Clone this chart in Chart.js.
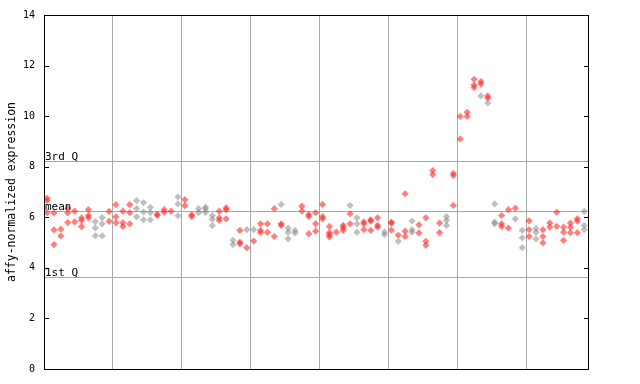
<!DOCTYPE html>
<html lang="en">

<head>
    <meta charset="UTF-8">
    <title>affy-normalized expression</title>
    <script src="https://cdn.jsdelivr.net/npm/chart.js@4.4.0/dist/chart.umd.min.js"></script>
    <style>
        html, body { margin: 0; padding: 0; background: #fff; }
        #wrap { width: 640px; height: 384px; }
    </style>
</head>

<body>
    <div id="wrap"><canvas id="myChart" width="640" height="384"></canvas></div>
</body>

<script>
    // values, one list per sample column
    const expr = [
        [6.75, 6.66, 6.18], [6.17, 5.50, 4.92], [5.53, 5.26], [6.35, 6.17, 5.79], [6.24, 5.82],
        [5.98, 5.88, 5.63], [6.30, 6.07, 5.98], [5.83, 5.58, 5.27], [5.99, 5.74, 5.27], [6.23, 5.84],
        [6.50, 6.02, 5.78], [6.24, 5.78, 5.64], [6.50, 6.18, 5.74], [6.66, 6.34, 6.02], [6.58, 6.21, 5.90],
        [6.39, 6.18, 5.90], [6.12, 6.07], [6.30, 6.20], [6.24], [6.81, 6.53, 6.06],
        [6.70, 6.46], [6.10, 6.03], [6.34, 6.19], [6.40, 6.32, 6.19], [6.07, 5.92, 5.67],
        [6.24, 5.98, 5.88], [6.37, 6.30, 5.94], [5.09, 4.92], [5.48, 5.02, 4.95], [5.51, 4.80],
        [5.51, 5.06], [5.74, 5.48, 5.39], [5.74, 5.41], [6.34, 5.24], [6.51, 5.74, 5.68],
        [5.57, 5.41, 5.15], [5.48, 5.38], [6.44, 6.24], [6.11, 6.03, 5.35], [6.18, 5.74, 5.45],
        [6.51, 6.03, 5.94], [5.64, 5.39, 5.31, 5.22], [5.41], [5.68, 5.59, 5.48], [6.47, 6.14, 5.74],
        [5.98, 5.74, 5.41], [5.82, 5.74, 5.51], [5.90, 5.85, 5.48], [5.98, 5.68, 5.61], [5.41, 5.31],
        [5.81, 5.76, 5.49], [5.29, 5.05], [6.93, 5.45, 5.24], [5.85, 5.51, 5.41], [5.70, 5.38],
        [5.98, 5.05, 4.89], [7.85, 7.69], [5.77, 5.39], [6.03, 5.88, 5.68], [7.74, 7.65, 6.47],
        [9.99, 9.10], [10.15, 9.99], [11.46, 11.23, 11.13], [11.37, 11.27, 10.80], [10.80, 10.71, 10.52],
        [6.53, 5.81, 5.74], [6.07, 5.74, 5.64], [6.30, 5.57], [6.36, 5.94], [5.48, 5.19, 4.80],
        [5.86, 5.51, 5.24], [5.55, 5.41, 5.15], [5.51, 5.24, 4.99], [5.77, 5.61], [6.20, 5.64],
        [5.61, 5.41, 5.09], [5.77, 5.61, 5.39], [5.94, 5.85, 5.39], [6.23, 5.68, 5.51]
    ];
    // r = red, g = grey, one letter per value above
    const tone = [
        'rrr', 'rrr', 'rr', 'rrr', 'rr', 'rrr', 'rrr', 'ggg', 'ggg', 'rr',
        'rrr', 'rrr', 'rrr', 'ggg', 'ggg', 'ggg', 'rr', 'rr', 'r', 'ggg',
        'rr', 'rr', 'gg', 'ggg', 'ggg', 'rrr', 'rrr', 'gg', 'rrr', 'gr',
        'gr', 'rrr', 'rr', 'rr', 'grr', 'ggg', 'gg', 'rr', 'rrr', 'rrr',
        'rrr', 'rrrr', 'r', 'rrr', 'grr', 'ggg', 'rrr', 'rrr', 'rrr', 'gg',
        'rrr', 'rg', 'rrr', 'ggg', 'rr', 'rrr', 'rr', 'rr', 'ggg', 'rrr',
        'rr', 'rr', 'rrr', 'rrg', 'rrg', 'ggg', 'rrr', 'rr', 'rg', 'ggg',
        'rrr', 'ggg', 'rrr', 'rr', 'rr', 'rrr', 'rrr', 'rrr', 'ggg'
    ];
    const quartiles = [3.63, 6.23, 8.23];
    const quartileLabels = ['1st Q', 'mean', '3rd Q'];
    const yTicks = [0, 2, 4, 6, 8, 10, 12, 14];
    const xMax = 79;

    const redPts = [];
    const greyPts = [];
    expr.forEach((vals, i) => {
        vals.forEach((v, k) => {
            const p = { x: i + 0.45, y: v };
            if (tone[i][k] === 'g') greyPts.push(p); else redPts.push(p);
        });
    });

    const mono = "'DejaVu Sans Mono', monospace";

    // frame, inner tick marks and the quartile lines
    const extras = {
        id: 'extras',
        beforeDatasetsDraw(chart) {
            const { ctx, chartArea: a, scales: { y } } = chart;
            ctx.save();
            ctx.strokeStyle = '#a8a8a8';
            ctx.lineWidth = 1;
            quartiles.forEach(q => {
                const py = Math.round(y.getPixelForValue(q)) + 0.5;
                ctx.beginPath();
                ctx.moveTo(a.left, py);
                ctx.lineTo(a.right, py);
                ctx.stroke();
            });
            ctx.restore();
        },
        afterDatasetsDraw(chart) {
            const { ctx, chartArea: a, scales: { y } } = chart;
            ctx.save();
            ctx.strokeStyle = '#000';
            ctx.lineWidth = 1;
            ctx.strokeRect(a.left + 0.5, a.top + 0.5, a.right - a.left, a.bottom - a.top);
            yTicks.forEach(t => {
                const py = Math.round(y.getPixelForValue(t)) + 0.5;
                ctx.beginPath();
                ctx.moveTo(a.left, py);
                ctx.lineTo(a.left + 5, py);
                ctx.moveTo(a.right - 4, py);
                ctx.lineTo(a.right + 1, py);
                ctx.stroke();
            });
            ctx.fillStyle = '#000';
            ctx.font = '11px ' + mono;
            ctx.textAlign = 'left';
            ctx.textBaseline = 'alphabetic';
            quartiles.forEach((q, i) => {
                const py = Math.round(y.getPixelForValue(q));
                ctx.fillText(quartileLabels[i], a.left + 1, py - 1);
            });
            ctx.restore();
        }
    };

    const ctx = document.getElementById('myChart').getContext('2d');
    const myChart = new Chart(ctx, {
        type: 'scatter',
        data: {
            datasets: [{
                data: greyPts,
                pointStyle: 'rectRot',
                pointRadius: 3.6,
                borderWidth: 0,
                backgroundColor: 'rgba(130,130,130,0.5)'
            }, {
                data: redPts,
                pointStyle: 'rectRot',
                pointRadius: 3.6,
                borderWidth: 0,
                backgroundColor: 'rgba(255,40,40,0.6)'
            }]
        },
        options: {
            responsive: false,
            animation: false,
            events: [],
            layout: { padding: { left: 0, top: 13, right: 52, bottom: 14 } },
            plugins: { legend: { display: false }, tooltip: { enabled: false } },
            scales: {
                x: {
                    type: 'linear',
                    min: 0,
                    max: xMax,
                    ticks: { display: false, stepSize: 10 },
                    grid: { color: '#a8a8a8', drawTicks: false },
                    border: { display: false },
                    afterFit(scale) { scale.height = 0; }
                },
                y: {
                    min: 0,
                    max: 14,
                    ticks: {
                        stepSize: 2,
                        color: '#000',
                        padding: 9,
                        font: { family: mono, size: 10 }
                    },
                    grid: { display: false, drawTicks: false },
                    border: { display: false },
                    title: {
                        display: true,
                        text: 'affy-normalized expression',
                        color: '#000',
                        font: { family: mono, size: 11.5 },
                        padding: { top: 5, bottom: 0 }
                    },
                    afterFit(scale) { scale.width = 44; }
                }
            }
        },
        plugins: [extras]
    });
</script>

</html>
